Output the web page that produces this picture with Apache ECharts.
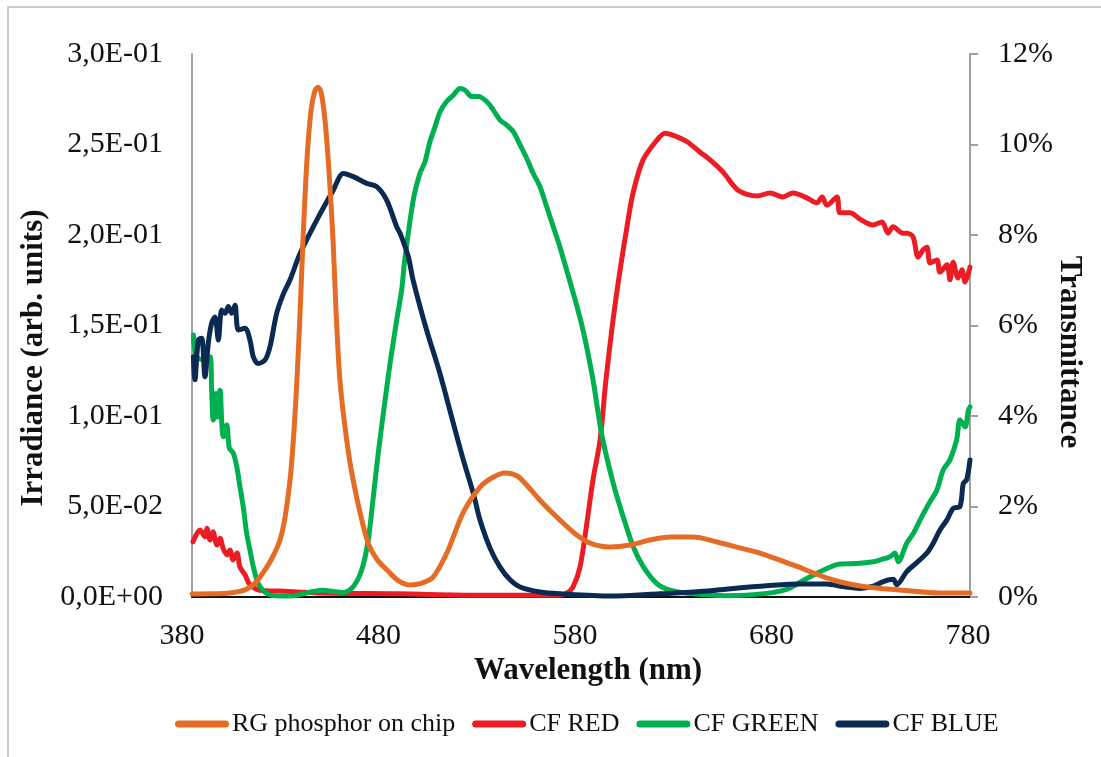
<!DOCTYPE html>
<html>
<head>
<meta charset="utf-8">
<script src="https://cdn.jsdelivr.net/npm/echarts@6/dist/echarts.min.js"></script>
<style>
html,body{margin:0;padding:0;background:#fff;}
#chart{width:1101px;height:757px;}
</style>
</head>
<body>
<div id="chart"></div>
<script>
// ---- data ----
const seriesNames = ['RG phosphor on chip', 'CF RED', 'CF GREEN', 'CF BLUE'];
const xTickLabels = [380, 480, 580, 680, 780];
const leftTickLabels = ['0,0E+00', '5,0E-02', '1,0E-01', '1,5E-01', '2,0E-01', '2,5E-01', '3,0E-01'];
const rightTickLabels = ['0%', '2%', '4%', '6%', '8%', '10%', '12%'];

// RG phosphor on chip: irradiance (arb. units), left axis
const phosphorNm = [385, 395, 404.3, 412, 417, 421.1, 425.5, 429.8, 432.5, 434.9, 436.8, 438.4, 440.0, 441.5, 443.5, 445.6, 447.6, 449.1, 450.7, 452.7, 454.7, 456.8, 458.3, 460.3, 463.4, 467.0, 474.1, 479, 484.3, 490, 496.0, 501.5, 507.7, 515, 522.9, 531.6, 538, 544.3, 548, 552.0, 562.1, 572.3, 580, 587.6, 597.8, 608.0, 618.1, 628.3, 640.0, 652.2, 663.9, 674.1, 690.9, 711.3, 728.6, 745.4, 765.7, 781];
const phosphorIrr = [0.0017, 0.0018, 0.0022, 0.0039, 0.0075, 0.0133, 0.021, 0.0315, 0.045, 0.0646, 0.090, 0.1198, 0.1568, 0.1971, 0.2413, 0.2689, 0.2799, 0.2816, 0.2788, 0.2634, 0.2357, 0.1971, 0.1584, 0.1198, 0.0894, 0.0646, 0.0315, 0.021, 0.0149, 0.009, 0.0066, 0.0075, 0.011, 0.025, 0.0464, 0.0607, 0.066, 0.0685, 0.068, 0.0657, 0.0535, 0.0425, 0.035, 0.0298, 0.0276, 0.0287, 0.0315, 0.0331, 0.0331, 0.0304, 0.0271, 0.0243, 0.0177, 0.0094, 0.0055, 0.0039, 0.0022, 0.0022];

// CF RED transmittance (%), right axis
const redNm = [385.5, 389.1, 391.6, 392.6, 394.2, 395.7, 397.7, 399.3, 400.8, 402.8, 404.3, 405.9, 407.9, 409.4, 412.0, 414.5, 419.6, 429.8, 450.2, 490.9, 531.6, 572.3, 575.9, 578.9, 582.5, 586.0, 589.1, 592.7, 595.7, 599.3, 602.9, 606.4, 609.5, 614.6, 621.7, 625.8, 631.9, 637.0, 643.6, 648.7, 655.3, 662.9, 672.6, 679.2, 685.8, 690.9, 698.0, 703.1, 705.7, 708.2, 713.3, 714.8, 719.9, 725.0, 731.6, 736.2, 739.3, 741.8, 746.9, 749.0, 752.0, 754.6, 757.1, 759.1, 760.7, 764.2, 765.7, 769.3, 770.8, 772.4, 774.9, 776.9, 778.5, 781.0];
const redPct = [1.22, 1.48, 1.33, 1.52, 1.26, 1.44, 1.15, 1.30, 1.08, 0.93, 1.04, 0.82, 0.97, 0.66, 0.49, 0.27, 0.15, 0.13, 0.09, 0.07, 0.04, 0.04, 0.09, 0.22, 0.66, 1.64, 2.59, 3.47, 4.80, 6.12, 7.23, 8.18, 8.93, 9.66, 10.10, 10.25, 10.17, 10.06, 9.83, 9.66, 9.39, 8.99, 8.86, 8.93, 8.84, 8.93, 8.82, 8.71, 8.84, 8.66, 8.84, 8.49, 8.49, 8.35, 8.22, 8.29, 8.04, 8.18, 8.04, 8.04, 7.96, 7.51, 7.67, 7.73, 7.38, 7.45, 7.18, 7.34, 7.01, 7.40, 7.05, 7.23, 6.96, 7.29];

// CF GREEN transmittance (%), right axis
const greenNm = [385.7, 387.4, 391.6, 394.2, 395.0, 395.8, 397.2, 397.9, 399.3, 400.1, 400.9, 402.7, 404.0, 406.0, 407.8, 409.4, 411.1, 412.8, 414.5, 416.2, 418.7, 423.0, 429.8, 438.3, 446.7, 451.8, 456.9, 462.0, 467.1, 471.4, 474.7, 477.3, 479.8, 482.4, 485.8, 489.2, 491.7, 493.3, 497.6, 501.0, 503.6, 506.1, 508.7, 511.2, 514.6, 518.0, 521.4, 524.0, 527.4, 530.7, 535.0, 538.4, 541.8, 545.2, 548.6, 552.0, 555.4, 558.7, 562.1, 565.5, 568.9, 572.3, 582.9, 588.9, 593.5, 599.4, 604.5, 609.6, 614.7, 621.5, 628.3, 640.2, 657.2, 677.5, 687.7, 691.1, 698.9, 708.1, 714.8, 723.3, 731.8, 735.2, 740.3, 742.8, 744.5, 748.8, 752.2, 756.4, 760.7, 764.1, 767.4, 770.8, 774.2, 775.9, 778.5, 780.2, 781.0];
const greenPct = [5.79, 5.31, 5.24, 5.31, 4.57, 3.91, 4.50, 3.98, 4.57, 3.91, 3.54, 3.80, 3.29, 3.18, 2.88, 2.44, 1.99, 1.41, 1.04, 0.67, 0.30, 0.08, 0.02, 0.04, 0.12, 0.15, 0.12, 0.10, 0.23, 0.60, 1.26, 2.22, 3.18, 4.06, 5.16, 6.12, 6.78, 7.45, 8.77, 9.36, 9.62, 10.06, 10.39, 10.72, 10.95, 11.09, 11.24, 11.20, 11.06, 11.06, 10.95, 10.76, 10.54, 10.43, 10.28, 9.99, 9.69, 9.36, 9.07, 8.63, 8.18, 7.73, 6.10, 4.85, 3.60, 2.51, 1.77, 1.11, 0.67, 0.30, 0.15, 0.07, 0.03, 0.08, 0.17, 0.24, 0.43, 0.63, 0.73, 0.74, 0.78, 0.82, 0.89, 0.97, 0.78, 1.19, 1.41, 1.77, 2.11, 2.36, 2.81, 3.03, 3.47, 3.91, 3.76, 4.13, 4.20];

// CF BLUE transmittance (%), right axis
const blueNm = [385.7, 386.5, 388.2, 389.9, 391.6, 393.3, 395.0, 396.7, 398.4, 400.1, 401.8, 403.5, 405.2, 406.9, 408.6, 412.0, 414.5, 416.2, 418.7, 422.2, 424.7, 428.1, 431.5, 434.9, 440.0, 448.5, 456.9, 462.0, 467.1, 473.9, 479.0, 484.1, 489.2, 490.9, 495.1, 497.5, 504.4, 511.2, 518.0, 523.1, 528.2, 531.6, 536.7, 541.8, 546.9, 552.0, 562.1, 572.3, 597.8, 623.2, 643.6, 660.5, 677.5, 694.5, 708.1, 716.5, 725.0, 731.8, 736.9, 742.0, 743.7, 748.8, 753.9, 759.0, 762.3, 765.7, 769.2, 772.5, 775.9, 777.6, 779.3, 781.0];
const bluePct = [5.31, 4.80, 5.68, 5.72, 4.87, 5.61, 6.05, 6.19, 5.68, 6.34, 6.27, 6.42, 6.27, 6.45, 5.90, 5.94, 5.68, 5.31, 5.16, 5.24, 5.53, 6.27, 6.70, 7.01, 7.59, 8.33, 8.99, 9.36, 9.29, 9.14, 9.07, 8.77, 8.18, 8.04, 7.52, 7.01, 5.90, 4.94, 3.84, 3.03, 2.29, 1.70, 1.08, 0.66, 0.38, 0.22, 0.11, 0.07, 0.02, 0.07, 0.12, 0.19, 0.25, 0.29, 0.29, 0.23, 0.19, 0.24, 0.34, 0.39, 0.27, 0.56, 0.76, 0.97, 1.19, 1.48, 1.70, 1.96, 2.00, 2.51, 2.59, 3.03];

// ---- chart ----
const zip = (a, b) => a.map((v, i) => [v, b[i]]);
const FONT = 'Liberation Serif';
const AXIS_GRAY = '#A0A0A0';
const colors = ['#E46C24', '#EC1C24', '#00AF50', '#0B2A52'];

const chart = echarts.init(document.getElementById('chart'), null, {renderer: 'canvas'});

const lineSeries = (name, data, yIdx, color, z) => ({
  name: name, type: 'line', xAxisIndex: 0, yAxisIndex: yIdx,
  data: data, symbol: 'none', showSymbol: false, smooth: 0.3,
  lineStyle: {color: color, width: 5, cap: 'round', join: 'round'},
  itemStyle: {color: color}, z: z, animation: false
});

chart.setOption({
  backgroundColor: '#ffffff',
  animation: false,
  textStyle: {fontFamily: FONT},
  grid: [
    {left: 192, right: 131, top: 54, bottom: 160},
    {left: 182, right: 133, top: 54, bottom: 160}
  ],
  xAxis: [
    {type: 'value', gridIndex: 0, min: 385, max: 781, position: 'bottom',
     axisLine: {show: true, lineStyle: {color: AXIS_GRAY, width: 2}},
     axisTick: {show: false}, axisLabel: {show: false}, splitLine: {show: false}},
    {type: 'value', gridIndex: 1, min: 380, max: 780, interval: 100, position: 'bottom',
     axisLine: {show: false}, axisTick: {show: false}, splitLine: {show: false},
     axisLabel: {show: true, margin: 24, fontFamily: FONT, fontSize: 30, color: '#111',
       formatter: v => String(xTickLabels[Math.round((v - 380) / 100)])}},
    {type: 'value', gridIndex: 0, min: 385, max: 781, position: 'top',
     axisLine: {show: true, lineStyle: {color: '#111', width: 2}},
     axisTick: {show: false}, axisLabel: {show: false}, splitLine: {show: false}}
  ],
  yAxis: [
    {type: 'value', gridIndex: 0, min: 0, max: 0.3, interval: 0.05, position: 'left',
     axisLine: {show: true, lineStyle: {color: AXIS_GRAY, width: 2}},
     axisTick: {show: false}, splitLine: {show: false},
     axisLabel: {margin: 29, fontFamily: FONT, fontSize: 30, color: '#111',
       formatter: v => leftTickLabels[Math.round(v / 0.05)]}},
    {type: 'value', gridIndex: 0, min: 0, max: 12, interval: 2, position: 'right',
     axisLine: {show: true, lineStyle: {color: AXIS_GRAY, width: 2}},
     axisTick: {show: true, inside: false, length: 8, lineStyle: {color: AXIS_GRAY, width: 2}},
     splitLine: {show: false},
     axisLabel: {margin: 28, fontFamily: FONT, fontSize: 30, color: '#111',
       formatter: v => rightTickLabels[Math.round(v / 2)]}},
    {type: 'value', gridIndex: 1, min: 0, max: 1, show: false}
  ],
  legend: {
    data: seriesNames,
    left: 170, top: 706,
    itemWidth: 54, itemHeight: 14, itemGap: 17,
    icon: 'path://M3.5,3.5 L50.5,3.5 A3.5,3.5 0 0 1 50.5,10.5 L3.5,10.5 A3.5,3.5 0 0 1 3.5,3.5 Z',
    textStyle: {fontFamily: FONT, fontSize: 26, color: '#111', padding: [0, 0, 0, -2]}
  },
  graphic: [
    {type: 'rect', shape: {x: 8, y: 7, width: 1300, height: 900}, style: {fill: null, stroke: '#BDBDBD', lineWidth: 1.5}, silent: true},
    {type: 'text', x: 588, y: 671, style: {text: 'Wavelength (nm)', font: 'bold 31px "Liberation Serif"', fill: '#111', align: 'center', verticalAlign: 'middle'}},
    {type: 'text', x: 34, y: 358, rotation: Math.PI / 2, style: {text: 'Irradiance (arb. units)', font: 'bold 31px "Liberation Serif"', fill: '#111', align: 'center', verticalAlign: 'middle'}},
    {type: 'text', x: 1069, y: 352, rotation: -Math.PI / 2, style: {text: 'Transmittance', font: 'bold 31px "Liberation Serif"', fill: '#111', align: 'center', verticalAlign: 'middle'}}
  ],
  series: [
    lineSeries(seriesNames[1], zip(redNm, redPct), 1, colors[1], 2),
    lineSeries(seriesNames[2], zip(greenNm, greenPct), 1, colors[2], 3),
    lineSeries(seriesNames[3], zip(blueNm, bluePct), 1, colors[3], 4),
    lineSeries(seriesNames[0], zip(phosphorNm, phosphorIrr), 0, colors[0], 5)
  ]
});
</script>
</body>
</html>
